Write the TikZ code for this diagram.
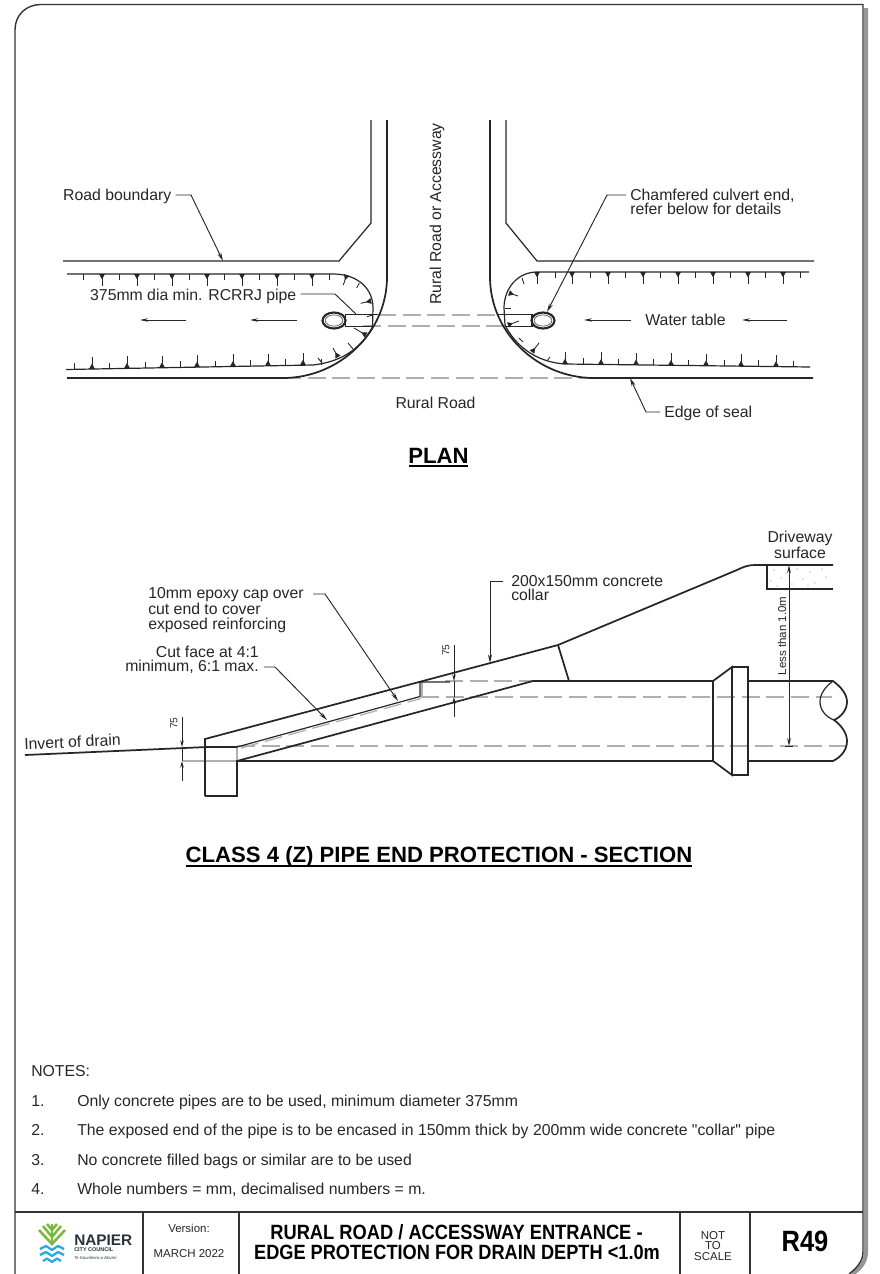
\documentclass[tikz,border=0pt]{standalone}
\usepackage{fontspec}
\setmainfont{Liberation Sans}
\newfontface\plainquote{Liberation Sans}
\usetikzlibrary{arrows.meta}
\definecolor{dashgrey}{RGB}{175,175,175}
\definecolor{framegrey}{RGB}{150,150,150}
\definecolor{logogreen}{RGB}{122,184,60}
\definecolor{logoblue}{RGB}{40,170,225}
\definecolor{logodark}{RGB}{40,52,60}
\tikzset{
  lbl/.style={inner sep=3pt,font=\fontsize{11.85}{10.7}\selectfont,text=black!85},
  smalllbl/.style={inner sep=0pt,font=\fontsize{7.6}{8}\selectfont,text=black!85},
  heading/.style={inner sep=0pt,font=\fontsize{16.6}{18}\selectfont\bfseries},
  thick line/.style={line width=1.3pt,black!85},
  thin line/.style={line width=0.9pt,black!85},
  dashline/.style={line width=0.95pt,dashgrey,dash pattern=on 13.5pt off 5pt},
  leader/.style={line width=0.7pt,black!85,-{Stealth[length=6.5pt,width=3pt]}},
  flowarrow/.style={line width=0.7pt,black!85,-{Stealth[length=6pt,width=2.6pt]}},
  dimline/.style={line width=0.7pt,black!85},
  shorttick/.style={line width=0.65pt,black!85},
  longtick/.style={line width=0.65pt,black!85,{Triangle[reversed,length=4pt,width=4.2pt]}-},
  leaf/.style={line width=1.9pt,logogreen},
  wave/.style={line width=1.7pt,logoblue,line join=round},
}
\begin{document}
\begin{tikzpicture}[x=0.75pt,y=0.75pt,yscale=-1,xscale=1]
\useasboundingbox (0,0) rectangle (879,1274);

%Sheet frame
\draw [framegrey,line width=3pt] (866,8) -- (866,1252) .. controls (866,1262) and (860,1269) .. (852,1274);
\draw [black!80,line width=1.05pt] (15,1274) -- (15,30) .. controls (15,15) and (26,4.5) .. (41,4.5) -- (863,4.5) -- (863,1252) .. controls (863,1261) and (857,1268) .. (849,1274);

%Plan - road boundary
\draw [thin line] (63,261) -- (339,261) -- (371,223) -- (371,120);
\draw [thin line] (814,261) -- (537,261) -- (506,223) -- (506,120);
%Plan - edge of seal
\draw [dashline] (283,378) -- (594,378);
\draw [dashline] (378,315) -- (499,315);
\draw [dashline] (363,326) -- (505,326);
\draw [thick line] (387,120) -- (387,277) .. controls (387,333) and (339,378) .. (283,378) -- (67,378);
\draw [thick line] (490,120) -- (490,277) .. controls (490,333) and (538,378) .. (594,378) -- (813,378);

%Plan - water table left
\draw [thin line] (67,274) -- (333,274) .. controls (357,274) and (373,288) .. (373,308) -- (372.5,327) .. controls (360,350) and (340,362) .. (313,365) -- (66,369.5);
\foreach \x in {83,119,154,189,224,259,294,329} \draw [shorttick] (\x,274) -- ++(0,6);
\foreach \x in {102,137,172,207,242,277,312} \draw [longtick] (\x,274) -- ++(0,12);
\foreach \x/\y in {74/369.2,109/368.6,145/367.9,180/367.3,215/366.6,250/366,285/365.4,321/364.6} \draw [shorttick] (\x,\y) -- ++(0,-6);
\foreach \x/\y in {92/369,127/368.3,162/367.6,197/367,233/366.3,268/365.7,303/365} \draw [longtick] (\x,\y) -- ++(0,-12);
\draw [longtick] (346.7,275) -- (343.3,285);
\draw [shorttick] (359.3,283) -- (356.7,288);
\draw [longtick] (371,301) -- (360.7,303.3);
\draw [shorttick] (372.5,315) -- (367,316.7);
\draw [longtick] (366,335) -- (354,328);
\draw [shorttick] (353,349) -- (348,343);
\draw [longtick] (338,357) -- (333,348);
\draw [shorttick] (322,363) -- (318,358);

%Plan - water table right
\draw [thin line] (809,272) -- (537,272) .. controls (518,272) and (504,288) .. (504,308) -- (505,325) .. controls (515,345) and (535,362) .. (565,364) -- (810,367);
\foreach \x in {555,590,625,660,695,730,765,800} \draw [shorttick] (\x,272) -- ++(0,6);
\foreach \x in {537,572,608,643,678,713,748,783} \draw [longtick] (\x,272) -- ++(0,12);
\foreach \x/\y in {583/364.2,618/364.7,653/365.1,688/365.5,724/365.9,758/366.3,793/366.8} \draw [shorttick] (\x,\y) -- ++(0,-6);
\foreach \x/\y in {565/364,601/364.4,636/364.9,671/365.3,706/365.7,741/366.1,776/366.6} \draw [longtick] (\x,\y) -- ++(0,-12);
\draw [shorttick] (522,278) -- (524,284);
\draw [longtick] (509,293) -- (518,296);
\draw [shorttick] (505,308) -- (511,308);
\draw [longtick] (508,325) -- (519,321);
\draw [shorttick] (519,338) -- (523,342);
\draw [longtick] (532,352) -- (539,343);
\draw [shorttick] (547,361) -- (550,357);

%Plan - culvert left
\draw [thick line] (346,314.5) -- (378,314.5);
\draw [thick line] (346,326.5) -- (372,326.5);
\draw [thick line] (345.5,314) -- (345.5,327);
\draw [line width=1.6pt,black!85] (334,320.5) ellipse (11.5 and 8);
\draw [line width=0.6pt,black!60] (334,320.5) ellipse (8.8 and 5.6);
%Plan - culvert right
\draw [thick line] (498,314.5) -- (532,314.5);
\draw [thick line] (505,326.5) -- (532,326.5);
\draw [thick line] (532,314) -- (532,327);
\draw [line width=1.6pt,black!85] (543,320.5) ellipse (11.5 and 8);
\draw [line width=0.6pt,black!60] (543,320.5) ellipse (8.8 and 5.6);

%Plan - labels and leaders
\node (lblboundary) [lbl,anchor=east] at (175.5,196.5) {Road boundary};
\coordinate (tipboundary) at (223,261);
\draw [leader] (lblboundary.east |- 0,195) -- (191,195) -- (tipboundary);
\node (lblpipe) [lbl,anchor=east] at (300.5,296) {375mm dia min. RCRRJ pipe};
\coordinate (tippipe) at (356,314);
\draw [line width=0.7pt,black!85] (lblpipe.east |- 0,294) -- (335,294) -- (tippipe);
\node (lblaccess) [lbl,rotate=90,inner sep=0pt] at (437,214) {Rural Road or Accessway};
\node (lblchamfer) [lbl,anchor=west,align=left] at (626,202) {Chamfered culvert end,\\refer below for details};
\coordinate (tipchamfer) at (547,312);
\draw [leader] (lblchamfer.west |- 0,195) -- (607,195) -- (tipchamfer);
\node (lblwater) [lbl,inner sep=0pt] at (685.5,320) {Water table};
\node (lblseal) [lbl,anchor=west] at (660,413.5) {Edge of seal};
\coordinate (tipseal) at (630,378);
\draw [leader] (lblseal.west |- 0,412) -- (646,412) -- (tipseal);
\node (lblrural) [lbl,inner sep=0pt] at (435.5,403) {Rural Road};
\coordinate (flowa) at (186,320);
\coordinate (flowb) at (140,320);
\coordinate (flowc) at (297,320);
\coordinate (flowd) at (250,320);
\coordinate (flowe) at (631,320);
\coordinate (flowf) at (584,320);
\coordinate (flowg) at (787,320);
\coordinate (flowh) at (742,320);
\draw [flowarrow] (flowa) -- (flowb);
\draw [flowarrow] (flowc) -- (flowd);
\draw [flowarrow] (flowe) -- (flowf);
\draw [flowarrow] (flowg) -- (flowh);
\node (headplan) [heading] at (438.5,455.5) {PLAN};
\draw [line width=1.3pt] (409,466) -- (468,466);

%Section - dashed centre lines
\draw [dashline] (237,746) -- (846,746);
\draw [dashline] (421,697) -- (832,697);
\draw [dashline] (445,681) -- (533,681);
\draw [dashline] (241,748) -- (421,698.5);
\draw [line width=0.8pt,dashgrey] (183,761) -- (237,761);
\draw [line width=0.8pt,dashgrey] (237,747) -- (237,761);
\draw [line width=0.8pt,dashgrey] (422,682) -- (422,697);

%Section - pipe and collar
\draw [thick line] (25,755) -- (207,747) -- (237,747);
\draw [thick line] (205,796) -- (205,739) -- (558,645) -- (737,570) .. controls (743,567) and (748,565) .. (755,565) -- (833,565);
\draw [thick line] (205,796) -- (237,796) -- (237,761) -- (533,681) -- (713,681);
\draw [thick line] (237,761) -- (713,761);
\draw [thick line] (558,645) -- (569,681);
\draw [thin line] (237,747) -- (420,696.5) -- (420,682) -- (450,682);
%Section - socket
\draw [thick line] (713,681) -- (713,761);
\draw [thick line] (713,681) -- (732,667) -- (732,775) -- (713,761);
\draw [thick line] (732,667) -- (748,667) -- (748,775) -- (732,775);
\draw [thick line] (748,681) -- (833,681) .. controls (841,687) and (847,694) .. (847,702) .. controls (847,710) and (841,717) .. (834,720) .. controls (841,725) and (847,733) .. (847,741) .. controls (847,750) and (841,757) .. (833,761) -- (748,761);
\draw [thin line] (833,681) .. controls (825,687) and (820,694) .. (820,702) .. controls (820,710) and (826,717) .. (834,720);

%Section - driveway
\draw [thick line] (767,565) -- (767,589) -- (833,589);
\foreach \x/\y in {774/570,786/573,797/569,810/572,822/569,771/581,781/578,792/584,803/579,815/583,826/577,777/586,808/586}
  \fill [black!45] (\x,\y) circle (0.6);

%Section - dimensions
\coordinate (dimtopa) at (182,717);
\coordinate (dimtopb) at (182,747);
\coordinate (dimbota) at (182,781);
\coordinate (dimbotb) at (182,761);
\draw [dimline,-{Stealth[length=5pt,width=2.6pt]}] (dimtopa) -- (dimtopb);
\draw [dimline,-{Stealth[length=5pt,width=2.6pt]}] (dimbota) -- (dimbotb);
\draw [dimline] (dimtopb) -- (dimbotb);
\node (lbldimleft) [smalllbl,rotate=90] at (174,723) {75};
\coordinate (dimrighta) at (454,645);
\coordinate (dimrightb) at (454,681);
\coordinate (dimrightc) at (454,717);
\coordinate (dimrightd) at (454,697);
\draw [dimline,-{Stealth[length=5pt,width=2.6pt]}] (dimrighta) -- (dimrightb);
\draw [dimline,-{Stealth[length=5pt,width=2.6pt]}] (dimrightc) -- (dimrightd);
\draw [dimline] (dimrightb) -- (dimrightd);
\node (lbldimright) [smalllbl,rotate=90] at (446,650) {75};
\coordinate (dimheighta) at (789,565);
\coordinate (dimheightb) at (789,746);
\draw [dimline,{Stealth[length=6pt,width=2.8pt]}-{Stealth[length=6pt,width=2.8pt]}] (dimheighta) -- (dimheightb);
\draw [dimline] (785,746) -- (793,746);
\node (lblless) [smalllbl,rotate=90,font=\fontsize{8.6}{9}\selectfont] at (782,636) {Less than 1.0m};

%Section - labels and leaders
\node (lblinvert) [lbl,anchor=west,inner sep=0pt,rotate=2.5] at (24,744) {Invert of drain};
\node (lblepoxy) [lbl,anchor=north west,align=left,inner sep=0pt] at (148,587.5) {10mm epoxy cap over\\cut end to cover\\exposed reinforcing};
\coordinate (tipepoxy) at (398,701);
\draw [leader] (313,594) -- (325,594) -- (tipepoxy);
\node (lblcut) [lbl,anchor=east,align=right,inner sep=0pt] at (259,660) {Cut face at 4:1\\minimum, 6:1 max.};
\coordinate (tipcut) at (327,720);
\draw [leader] (264,667) -- (275,667) -- (tipcut);
\node (lblcollar) [lbl,anchor=west,align=left,inner sep=0pt] at (511,588) {200x150mm concrete\\collar};
\coordinate (tipcollar) at (490,663);
\draw [leader] (503,581) -- (490,581) -- (tipcollar);
\node (lbldrive) [lbl,align=center,inner sep=0pt] at (800,544.5) {Driveway\\surface};
\node (headsection) [heading] at (439,857) {CLASS 4 (Z) PIPE END PROTECTION - SECTION};
\draw [line width=1.3pt] (186,866) -- (692,866);

%Notes
\node (lblnotes) [lbl,anchor=base west,inner sep=0pt] at (31,1076) {NOTES:};
\foreach \n/\y/\t in {1./1106/{Only concrete pipes are to be used, minimum diameter 375mm},
  2./1135/{The exposed end of the pipe is to be encased in 150mm thick by 200mm wide concrete {\plainquote"}collar{\plainquote"} pipe},
  3./1165/{No concrete filled bags or similar are to be used},
  4./1194/{Whole numbers = mm, decimalised numbers = m.}} {
  \node [lbl,anchor=base west,inner sep=0pt] at (31,\y) {\n};
  \node [lbl,anchor=base west,inner sep=0pt] at (77,\y) {\t};
}

%Title block
\draw [black!80,line width=1pt] (15,1212) -- (863,1212);
\foreach \x in {143,239,680,750} \draw [black!80,line width=0.8pt] (\x,1212) -- (\x,1274);
\node (lblversion) [smalllbl,font=\fontsize{8.6}{9}\selectfont] at (189,1228) {Version:};
\node (lblmarch) [smalllbl,font=\fontsize{8.6}{9}\selectfont] at (189,1254) {MARCH 2022};
\node (lbltitlea) [inner sep=0pt,font=\fontsize{15.5}{16}\selectfont\bfseries] at (456.5,1232) {\scalebox{0.885}[1]{RURAL ROAD / ACCESSWAY ENTRANCE -}};
\node (lbltitleb) [inner sep=0pt,font=\fontsize{15.5}{16}\selectfont\bfseries] at (457,1252) {\scalebox{0.88}[1]{EDGE PROTECTION FOR DRAIN DEPTH <1.0m}};
\node (lblscale) [inner sep=0pt,align=center,font=\fontsize{8.6}{7.8}\selectfont,text=black!85] at (713,1246) {NOT\\TO\\SCALE};
\node (lblsheet) [inner sep=0pt,font=\fontsize{22}{24}\selectfont\bfseries] at (805,1241) {\scalebox{0.87}[1]{R49}};

%Logo
\draw [leaf] (39,1230) -- (52,1244) -- (65,1230);
\draw [leaf] (43,1226) -- (52,1237) -- (61,1226);
\draw [leaf] (47,1224) -- (52,1230) -- (57,1224);
\draw [leaf] (52,1244) -- (52,1224);
\draw [wave] (40,1249) -- (46,1246) -- (52,1250) -- (58,1246) -- (64,1249);
\draw [wave] (40,1255) -- (46,1252) -- (52,1256) -- (58,1252) -- (64,1255);
\draw [wave] (43,1261) -- (47,1258.5) -- (52,1262) -- (57,1258.5) -- (61,1261);
\node (lblnapier) [anchor=west,inner sep=0pt,text=logodark,font=\fontsize{11.5}{12}\selectfont\bfseries] at (74,1240) {NAPIER};
\node (lblcity) [anchor=west,inner sep=0pt,text=logodark,font=\fontsize{4.1}{5}\selectfont\bfseries] at (74,1250) {CITY COUNCIL};
\node (lblte) [anchor=west,inner sep=0pt,text=logodark,font=\fontsize{3.2}{4}\selectfont\itshape] at (74,1258) {Te Kaunihera a Ahuriri};
\end{tikzpicture}
\end{document}
